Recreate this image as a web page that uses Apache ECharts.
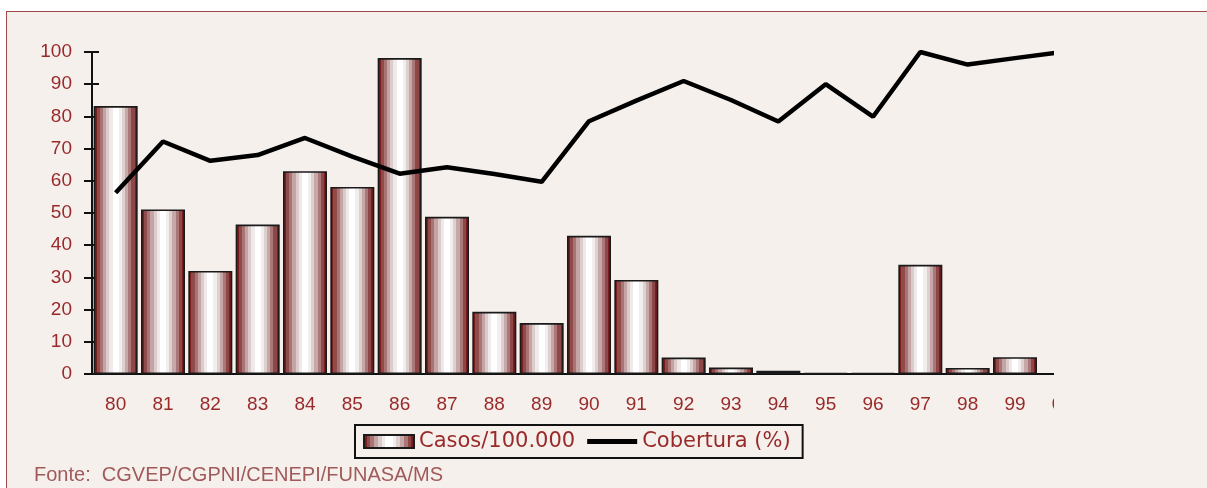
<!DOCTYPE html>
<html>
<head>
<meta charset="utf-8">
<script src="https://cdn.jsdelivr.net/npm/echarts@6/dist/echarts.min.js"></script>
<style>
  body { margin: 0; background: #fff; }
  #panel {
    position: absolute; left: 6px; top: 11px; width: 1220px; height: 500px;
    background: #f5f0ec; border: 1.5px solid #a34848;
  }
  /* the original picture is cut off just after the 2000 tick */
  #wrap { position: absolute; left: 0; top: 0; width: 1054px; height: 488px; overflow: hidden; }
  #chart { position: absolute; left: 0; top: 0; width: 1207px; height: 488px; }
</style>
</head>
<body>
<div id="panel"></div>
<div id="wrap"><div id="chart"></div></div>
<script>
// anos 1980 - 2000
var anos = ['80','81','82','83','84','85','86','87','88','89','90','91','92','93','94','95','96','97','98','99','00'];
// Casos/100.000
var casos = [83.2, 51.1, 32.0, 46.4, 63.0, 58.1, 98.1, 48.8, 19.3, 15.8, 42.9, 29.2, 5.1, 2.0, 1.0, 0.3, 0.3, 33.9, 1.9, 5.2, null];
// Cobertura (%)
var cobertura = [56.3, 72.2, 66.2, 68.0, 73.3, 67.5, 62.2, 64.2, 62.1, 59.7, 78.5, 84.9, 91.0, 85.1, 78.4, 90.0, 79.9, 100, 96.1, 98.1, 100];

var red = '#992a2a';
var axisFont = 'Liberation Sans, Arial, sans-serif';

// listras verticais das barras (faixas duras)
var bands = ['#7a1d1d','#8f4a4a','#a87474','#c4a4a4','#dccbcb','#f0e9e9','#ffffff','#ffffff','#f3eeee','#dfd0d0','#c6a8a8','#aa7878','#8f4646','#7a1d1d'];
var stops = [];
bands.forEach(function (c, i) {
  stops.push({ offset: i / bands.length, color: c });
  stops.push({ offset: (i + 1) / bands.length, color: c });
});
var barColor = new echarts.graphic.LinearGradient(0, 0, 1, 0, stops);

var chart = echarts.init(document.getElementById('chart'));
var option = {
  animation: false,
  title: {
    text: 'Fonte:  CGVEP/CGPNI/CENEPI/FUNASA/MS',
    left: 29, top: 460,
    textStyle: { color: '#a05a5a', fontFamily: axisFont, fontSize: 20, fontWeight: 'normal' }
  },
  legend: {
    left: 355, top: 425,
    padding: [6, 12, 6, 8],
    borderColor: '#111', borderWidth: 2,
    itemWidth: 50, itemHeight: 13, itemGap: 12,
    textStyle: { color: red, fontFamily: 'DejaVu Sans', fontSize: 21 },
    data: [
      { name: 'Casos/100.000', icon: 'rect' },
      { name: 'Cobertura (%)', icon: 'path://M0,0 L100,0 L100,10 L0,10 Z' }
    ]
  },
  grid: { left: 92, right: 121, top: 52, bottom: 114 },
  xAxis: [
    {
      type: 'category', data: anos, position: 'bottom',
      axisLine: { lineStyle: { color: '#111', width: 2 } },
      axisTick: { length: 7, lineStyle: { color: '#111', width: 2 } },
      axisLabel: { color: red, fontFamily: axisFont, fontSize: 19, margin: 21 }
    },
    {
      type: 'category', data: anos, position: 'bottom',
      axisLine: { show: false },
      axisTick: { inside: true, length: 6, lineStyle: { color: '#111', width: 2 } },
      axisLabel: { show: false }
    }
  ],
  yAxis: [
    {
      type: 'value', min: 0, max: 100, interval: 10,
      axisLine: { show: true, lineStyle: { color: '#111', width: 2 } },
      axisTick: { show: true, length: 8, lineStyle: { color: '#111', width: 2 } },
      axisLabel: { color: red, fontFamily: axisFont, fontSize: 19, margin: 20 },
      splitLine: { show: false }
    },
    {
      type: 'value', min: 0, max: 100, interval: 10, position: 'left',
      axisLine: { show: false },
      axisTick: { show: true, inside: true, length: 7, lineStyle: { color: '#111', width: 2 } },
      axisLabel: { show: false },
      splitLine: { show: false }
    }
  ],
  series: [
    {
      name: 'Casos/100.000',
      type: 'bar',
      data: casos,
      barWidth: 44,
      itemStyle: { color: barColor, borderColor: '#1a1a1a', borderWidth: 1.6 }
    },
    {
      name: 'Cobertura (%)',
      type: 'line',
      data: cobertura,
      symbol: 'none',
      z: 5,
      lineStyle: { color: '#000', width: 4.5 },
      itemStyle: { color: '#000' }
    }
  ]
};
chart.setOption(option);
</script>
</body>
</html>
